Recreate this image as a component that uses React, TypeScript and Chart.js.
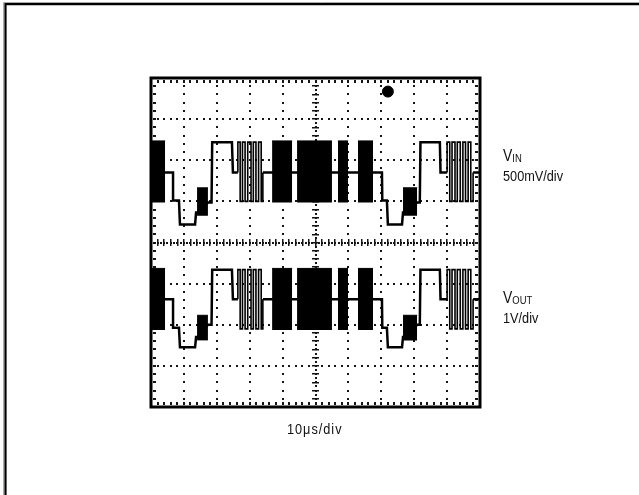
import React, { useEffect, useRef } from 'react';
import { Chart, registerables } from 'chart.js';

Chart.register(...registerables);

// Screen in divisions: 10 horizontal, 8 vertical (0 = centre line)
const X_RANGE = [0, 10];
const Y_RANGE = [-4, 4];

// Stepped level paths of each trace [time div, level div]; null = break (pulse train drawn separately)
const VIN_PATH: [number, number | null][] = [
  [0.0, 1.7], [0.67, 1.7], [0.67, 1.02], [0.85, 1.02], [0.88, 0.44], [1.34, 0.44],
  [1.37, 0.73], [1.42, 0.73], [1.73, 0.97], [1.84, 0.97], [1.86, 2.44], [2.46, 2.44],
  [2.49, 1.7], [2.64, 1.7], [2.64, null], [3.4, 1.7], [7.02, 1.7], [7.03, 1.02],
  [7.17, 1.02], [7.2, 0.44], [7.63, 0.44], [7.66, 0.73], [7.7, 0.73], [8.09, 0.97],
  [8.17, 0.97], [8.19, 2.44], [8.78, 2.44], [8.8, 1.7], [9.0, 1.7], [9.0, null],
  [9.79, 1.7], [10.0, 1.7],
];
const VOUT_PATH: [number, number | null][] = [
  [0.0, -1.38], [0.67, -1.38], [0.67, -2.07], [0.85, -2.07], [0.88, -2.55], [1.34, -2.55],
  [1.37, -2.3], [1.42, -2.3], [1.73, -2.0], [1.84, -2.0], [1.86, -0.66], [2.46, -0.66],
  [2.49, -1.38], [2.64, -1.38], [2.64, null], [3.4, -1.38], [7.02, -1.38], [7.03, -2.07],
  [7.17, -2.07], [7.2, -2.55], [7.63, -2.55], [7.66, -2.3], [7.7, -2.3], [8.09, -2.0],
  [8.17, -2.0], [8.19, -0.66], [8.78, -0.66], [8.8, -1.38], [9.0, -1.38], [9.0, null],
  [9.79, -1.38], [10.0, -1.38],
];

// Sparse data pulses: transition times (div)
const PULSE_EDGES_A = [2.64, 2.71, 2.78, 2.86, 2.94, 3.04, 3.11, 3.19, 3.27, 3.35, 3.4];
const PULSE_EDGES_B = [9.0, 9.08, 9.15, 9.24, 9.31, 9.4, 9.48, 9.56, 9.64, 9.72, 9.79];
// [high, low, rest] levels of the pulses
const VIN_PULSE_LEVELS = [2.44, 1.0, 1.7];
const VOUT_PULSE_LEVELS = [-0.66, -2.1, -1.38];

// Dense bursts: time windows (div) and amplitude envelopes [low, high]
const BURSTS = [[0.0, 0.43], [3.68, 4.29], [4.44, 5.5], [5.68, 5.99], [6.29, 6.75]];
const SMALL_BURSTS = [[1.4, 1.73], [7.66, 8.09]];
const VIN_BURST_BAND = [0.97, 2.47];
const VIN_SMALL_BAND = [0.65, 1.33];
const VOUT_BURST_BAND = [-2.13, -0.63];
const VOUT_SMALL_BAND = [-2.38, -1.77];

// Trigger marker position [time div, level div]
const TRIGGER_MARK = [7.2, 3.67];

const FONT = '"Liberation Sans", Arial, Helvetica, sans-serif';

function pathPoints(path: [number, number | null][]) {
  return path.map(([x, y]) => ({ x, y }));
}

function pulsePoints(edges: number[], levels: number[]) {
  const [hi, lo, rest] = levels;
  const pts = [{ x: edges[0], y: rest }];
  let level = hi;
  for (let i = 0; i < edges.length - 1; i++) {
    pts.push({ x: edges[i], y: level });
    pts.push({ x: edges[i + 1], y: level });
    level = level === hi ? lo : hi;
  }
  pts.push({ x: edges[edges.length - 1], y: rest });
  return pts;
}

function bandDataset(win: number[], band: number[]) {
  return {
    data: [{ x: win[0], y: band[1] }, { x: win[1], y: band[1] }],
    fill: { value: band[0] },
    backgroundColor: '#000',
    borderColor: '#000',
    borderWidth: 1,
    pointRadius: 0,
  };
}

const scopeGrid = {
  id: 'scopeGrid',
  beforeDraw(chart: any) {
    const { ctx, width, height } = chart;
    ctx.save();
    ctx.fillStyle = '#fff';
    ctx.fillRect(0, 0, width, height);
    ctx.strokeStyle = '#aaa';
    ctx.lineWidth = 1;
    ctx.beginPath();
    ctx.moveTo(3.5, height);
    ctx.lineTo(3.5, 2.5);
    ctx.lineTo(width, 2.5);
    ctx.stroke();
    ctx.strokeStyle = '#000';
    ctx.lineWidth = 2.2;
    ctx.beginPath();
    ctx.moveTo(5.5, height);
    ctx.lineTo(5.5, 4.2);
    ctx.lineTo(width, 4.2);
    ctx.stroke();
    ctx.restore();
  },
  beforeDatasetsDraw(chart: any) {
    const { ctx, chartArea: a, scales } = chart;
    const xs = scales.x;
    const ys = scales.y;
    ctx.save();
    ctx.fillStyle = '#151515';
    const dot = (px: number, py: number, w = 2, h = 2) =>
      ctx.fillRect(Math.round(px - w / 2), Math.round(py - h / 2), w, h);
    // dotted graticule
    for (let i = 1; i < 10; i++) {
      if (i === 5) continue;
      const px = xs.getPixelForValue(i);
      for (let k = 1; k < 40; k++) dot(px, ys.getPixelForValue(-4 + k * 0.2));
    }
    for (let j = -3; j <= 3; j++) {
      if (j === 0) continue;
      const py = ys.getPixelForValue(j);
      for (let k = 1; k < 50; k++) dot(xs.getPixelForValue(k * 0.2), py);
    }
    // centre axes with minor ticks
    const cx = xs.getPixelForValue(5);
    const cy = ys.getPixelForValue(0);
    for (let k = 1; k < 80; k++) dot(cx, ys.getPixelForValue(-4 + k * 0.1), 2, 2);
    for (let k = 1; k < 40; k++) dot(cx, ys.getPixelForValue(-4 + k * 0.2), 7, 1.5);
    for (let k = 1; k < 100; k++) dot(xs.getPixelForValue(k * 0.1), cy, 2, 2);
    for (let k = 1; k < 50; k++) dot(xs.getPixelForValue(k * 0.2), cy, 1.5, 7);
    // border minor ticks
    for (let k = 1; k < 50; k++) {
      const px = xs.getPixelForValue(k * 0.2);
      ctx.fillRect(Math.round(px - 1), a.top + 2, 2, 3);
      ctx.fillRect(Math.round(px - 1), a.bottom - 5, 2, 3);
    }
    for (let k = 1; k < 40; k++) {
      const py = ys.getPixelForValue(-4 + k * 0.2);
      ctx.fillRect(a.left + 2, Math.round(py - 1), 3, 2);
      ctx.fillRect(a.right - 5, Math.round(py - 1), 3, 2);
    }
    ctx.restore();
  },
  afterDatasetsDraw(chart: any) {
    const { ctx, chartArea: a } = chart;
    ctx.save();
    ctx.strokeStyle = '#000';
    ctx.lineWidth = 3;
    ctx.strokeRect(a.left, a.top, a.right - a.left, a.bottom - a.top);
    ctx.restore();
  },
};

export default function App() {
  const ref = useRef<HTMLCanvasElement>(null);

  useEffect(() => {
    if (!ref.current) return;
    const lineStyle = {
      borderColor: '#000',
      borderWidth: 2.5,
      pointRadius: 0,
      fill: false,
      spanGaps: false,
      tension: 0,
    };
    const pulseStyle = {
      borderColor: '#000',
      borderWidth: 1.6,
      pointRadius: 0,
      fill: false,
      tension: 0,
    };
    const datasets: any[] = [
      { label: 'VIN', data: pathPoints(VIN_PATH), ...lineStyle },
      { label: 'VOUT', data: pathPoints(VOUT_PATH), ...lineStyle },
      { label: 'VIN pulses A', data: pulsePoints(PULSE_EDGES_A, VIN_PULSE_LEVELS), ...pulseStyle },
      { label: 'VIN pulses B', data: pulsePoints(PULSE_EDGES_B, VIN_PULSE_LEVELS), ...pulseStyle },
      { label: 'VOUT pulses A', data: pulsePoints(PULSE_EDGES_A, VOUT_PULSE_LEVELS), ...pulseStyle },
      { label: 'VOUT pulses B', data: pulsePoints(PULSE_EDGES_B, VOUT_PULSE_LEVELS), ...pulseStyle },
      ...BURSTS.map((w) => bandDataset(w, VIN_BURST_BAND)),
      ...BURSTS.map((w) => bandDataset(w, VOUT_BURST_BAND)),
      ...SMALL_BURSTS.map((w) => bandDataset(w, VIN_SMALL_BAND)),
      ...SMALL_BURSTS.map((w) => bandDataset(w, VOUT_SMALL_BAND)),
      {
        type: 'scatter',
        label: 'trigger',
        data: [{ x: TRIGGER_MARK[0], y: TRIGGER_MARK[1] }],
        pointRadius: 5.5,
        pointBackgroundColor: '#000',
        pointBorderColor: '#000',
      },
    ];
    const chart = new Chart(ref.current, {
      type: 'line',
      data: { datasets },
      options: {
        responsive: false,
        animation: false,
        events: [],
        layout: { padding: { left: 151, top: 78, right: 159, bottom: 88 } },
        plugins: { legend: { display: false }, tooltip: { enabled: false } },
        scales: {
          x: { type: 'linear', min: X_RANGE[0], max: X_RANGE[1], display: false },
          y: { type: 'linear', min: Y_RANGE[0], max: Y_RANGE[1], display: false },
        },
      },
      plugins: [scopeGrid],
    } as any);
    return () => chart.destroy();
  }, []);

  const base: React.CSSProperties = {
    position: 'absolute',
    fontFamily: FONT,
    color: '#111',
    whiteSpace: 'nowrap',
    margin: 0,
    transformOrigin: 'left top',
    transform: 'scaleX(0.82)',
  };

  return (
    <div style={{ position: 'fixed', left: 0, top: 0, width: 639, height: 495, background: '#fff', overflow: 'hidden' }}>
      <canvas ref={ref} width={639} height={495} style={{ position: 'absolute', left: 0, top: 0, width: 639, height: 495 }} />
      <div style={{ ...base, left: 503, top: 147, fontSize: 17, lineHeight: '17px' }}>
        V<span style={{ fontSize: 11.5, verticalAlign: '-1px' }}>IN</span>
      </div>
      <div style={{ ...base, left: 503, top: 168, fontSize: 15.5, lineHeight: '15.5px' }}>500mV/div</div>
      <div style={{ ...base, left: 503, top: 289, fontSize: 17, lineHeight: '17px' }}>
        V<span style={{ fontSize: 11.5, verticalAlign: '-1px' }}>OUT</span>
      </div>
      <div style={{ ...base, left: 503, top: 310, fontSize: 15.5, lineHeight: '15.5px' }}>1V/div</div>
      <div style={{ ...base, left: 287, top: 421, fontSize: 15.5, lineHeight: '15.5px', letterSpacing: '1.2px' }}>10μs/div</div>
    </div>
  );
}
